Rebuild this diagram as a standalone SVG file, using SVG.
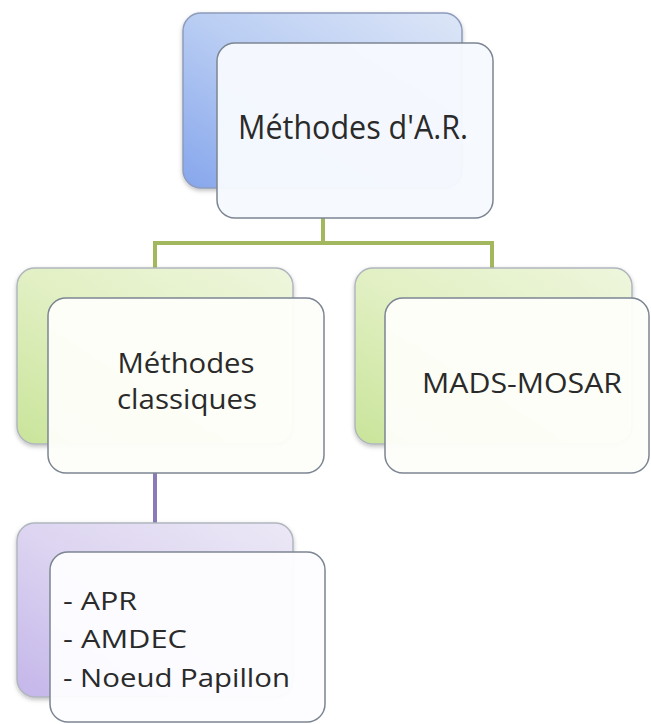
<svg xmlns="http://www.w3.org/2000/svg" width="651" height="724" viewBox="0 0 651 724">
<defs>
<linearGradient id="gBlue" x1="1" y1="0" x2="0" y2="1">
<stop offset="0" stop-color="#dde6f7"/>
<stop offset="0.5" stop-color="#b9cdf3"/>
<stop offset="1" stop-color="#86a6ec"/>
</linearGradient>
<linearGradient id="gGreen" x1="1" y1="0" x2="0" y2="1">
<stop offset="0" stop-color="#eef6dc"/>
<stop offset="0.5" stop-color="#e2f0c4"/>
<stop offset="1" stop-color="#c9e49a"/>
</linearGradient>
<linearGradient id="gPurple" x1="1" y1="0" x2="0" y2="1">
<stop offset="0" stop-color="#ece8f6"/>
<stop offset="0.5" stop-color="#ddd5f1"/>
<stop offset="1" stop-color="#c4b6ea"/>
</linearGradient>
<filter id="sh" x="-10%" y="-10%" width="120%" height="125%">
<feDropShadow dx="0" dy="2" stdDeviation="2" flood-color="#000" flood-opacity="0.25"/>
</filter>
</defs>
<style>
.back{stroke:#b0b6be;stroke-width:1.5;filter:url(#sh)}
.front{stroke:#7c8592;stroke-width:1.5}
.t{font-family:"Open Sans","Noto Sans",sans-serif;fill:#2a2a2a}
.c{fill:none;stroke-width:4}
</style>
<rect width="651" height="724" fill="#ffffff"/>
<g id="connectors">
<path class="c" stroke="#a3b85e" d="M323 218 V243 M155 243 H492 M155 241 V268 M492 241 V268"/>
<path class="c" stroke="#8a7bb8" d="M155 472 V523"/>
</g>
<g id="node-top">
<rect class="back" x="183" y="13" width="279" height="175" rx="18" fill="url(#gBlue)" style="stroke:#8d9cbc"/>
<rect class="front" x="217" y="43" width="276" height="175" rx="18" fill="#f6f9fe" fill-opacity="0.97"/>
<text class="t" x="353" y="139" text-anchor="middle" font-size="32" textLength="230" lengthAdjust="spacingAndGlyphs">Méthodes d'A.R.</text>
</g>
<g id="node-classiques">
<rect class="back" x="17" y="268" width="276" height="176" rx="18" fill="url(#gGreen)"/>
<rect class="front" x="48" y="298" width="276" height="175" rx="18" fill="#fdfef9" fill-opacity="0.96"/>
<text class="t" x="186" y="373" text-anchor="middle" font-size="26.5" textLength="137" lengthAdjust="spacingAndGlyphs">Méthodes</text>
<text class="t" x="187" y="409" text-anchor="middle" font-size="26.5" textLength="140" lengthAdjust="spacingAndGlyphs">classiques</text>
</g>
<g id="node-mads">
<rect class="back" x="355" y="268" width="277" height="176" rx="18" fill="url(#gGreen)"/>
<rect class="front" x="385" y="298" width="264" height="175" rx="18" fill="#fdfef9" fill-opacity="0.96"/>
<text class="t" x="522" y="393" text-anchor="middle" font-size="28" textLength="200" lengthAdjust="spacingAndGlyphs">MADS-MOSAR</text>
</g>
<g id="node-liste">
<rect class="back" x="17" y="523" width="276" height="174" rx="18" fill="url(#gPurple)"/>
<rect class="front" x="50" y="552" width="275" height="170" rx="18" fill="#fdfdff" fill-opacity="0.96"/>
<text class="t" x="63" y="610" font-size="26" textLength="74" lengthAdjust="spacingAndGlyphs">- APR</text>
<text class="t" x="63" y="648" font-size="26" textLength="124" lengthAdjust="spacingAndGlyphs">- AMDEC</text>
<text class="t" x="63" y="687" font-size="26" textLength="227" lengthAdjust="spacingAndGlyphs">- Noeud Papillon</text>
</g>
</svg>
